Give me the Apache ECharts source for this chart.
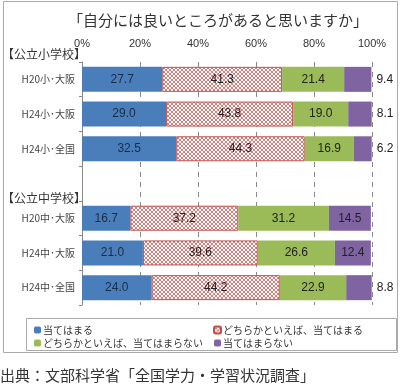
<!DOCTYPE html>
<html><head><meta charset="utf-8">
<script src="https://cdn.jsdelivr.net/npm/echarts@6/dist/echarts.min.js"></script>
<style>html,body{margin:0;padding:0;background:#fff;}#c{width:400px;height:389px;}</style>
</head><body><div id="c"></div>
<script>
var categories = ['H20小･大阪','H24小･大阪','H24小･全国','','H20中･大阪','H24中･大阪','H24中･全国'];
var seriesNames = ['当てはまる','どちらかといえば、当てはまる','どちらかといえば、当てはまらない','当てはまらない'];
var s1 = [27.7, 29.0, 32.5, null, 16.7, 21.0, 24.0];
var s2 = [41.3, 43.8, 44.3, null, 37.2, 39.6, 44.2];
var s3 = [21.4, 19.0, 16.9, null, 31.2, 26.6, 22.9];
var s4 = [9.4, 8.1, 6.2, null, 14.5, 12.4, 8.8];
var tickLabels = ['0%','20%','40%','60%','80%','100%'];

var FONT = '"Noto Sans CJK JP", "Noto Sans", sans-serif';
var NUMFONT = '"Liberation Sans", Arial, sans-serif';

var cv = document.createElement('canvas');
cv.width = 4; cv.height = 4;
var cx = cv.getContext('2d');
cx.fillStyle = '#ffffff'; cx.fillRect(0,0,4,4);
cx.fillStyle = '#D4807C';
[[0,0],[1,1],[2,2],[3,3],[3,0],[2,1],[1,2],[0,3]].forEach(function(p){cx.fillRect(p[0],p[1],1,1);});

function dataOf(arr, purple){
  return arr.map(function(v){
    if (v === null) return '-';
    if (purple && v < 10) return {value: v, label: {position: 'right', distance: 5}};
    return v;
  });
}
var lblBase = {show: true, position: 'inside', fontSize: 12, fontFamily: NUMFONT, color: '#222',
  formatter: function(p){ return (+p.value).toFixed(1); }};

var chart = echarts.init(document.getElementById('c'));
chart.setOption({
  animation: false,
  backgroundColor: '#fff',
  title: {text: '「自分には良いところがあると思いますか」', left: 213, textAlign: 'center', top: 8,
    textStyle: {fontSize: 15, fontWeight: 'normal', color: '#333', fontFamily: FONT}},
  grid: {left: 82, right: 28, top: 62, bottom: 84},
  legend: [
    {data: [seriesNames[0], seriesNames[2]], orient: 'vertical', left: 29, top: 320, itemWidth: 7, itemHeight: 7, itemGap: 3,
     textStyle: {fontSize: 10, color: '#333', fontFamily: FONT, padding: [0,0,0,-3]}},
    {data: [seriesNames[1], seriesNames[3]], orient: 'vertical', left: 208, top: 320, itemWidth: 7, itemHeight: 7, itemGap: 3,
     textStyle: {fontSize: 10, color: '#333', fontFamily: FONT, padding: [0,0,0,-3]}}
  ],
  xAxis: {type: 'value', position: 'top', min: 0, max: 100, interval: 20,
    axisLine: {show: false},
    axisTick: {show: true, inside: true, length: 4, lineStyle: {color: '#888'}},
    axisLabel: {margin: 13, fontSize: 11, color: '#333', fontFamily: NUMFONT,
      formatter: function(v){ return tickLabels[Math.round(v/20)]; }},
    splitLine: {show: true, lineStyle: {color: '#888', type: [5,5], width: 1}}},
  yAxis: {type: 'category', inverse: true, data: categories,
    axisLine: {show: true, lineStyle: {color: '#888'}},
    axisTick: {show: true, length: 3, lineStyle: {color: '#888'}},
    axisLabel: {margin: 7, fontSize: 10, color: '#444', fontFamily: FONT}},
  series: [
    {name: seriesNames[0], type: 'bar', stack: 't', barWidth: 25, data: dataOf(s1),
     itemStyle: {color: '#4A7EBB'}, label: Object.assign({}, lblBase, {color: '#1c2b45'})},
    {name: seriesNames[1], type: 'bar', stack: 't', barWidth: 25, data: dataOf(s2),
     itemStyle: {color: {image: cv, repeat: 'repeat'}, borderColor: '#C0504D', borderWidth: 1}, label: lblBase},
    {name: seriesNames[2], type: 'bar', stack: 't', barWidth: 25, data: dataOf(s3),
     itemStyle: {color: '#9BBB59'}, label: lblBase},
    {name: seriesNames[3], type: 'bar', stack: 't', barWidth: 25, data: dataOf(s4, true),
     itemStyle: {color: '#8064A2'}, label: lblBase}
  ],
  graphic: [
    {type: 'rect', shape: {x: 3.5, y: 1.5, width: 394, height: 351}, style: {fill: 'none', stroke: '#aaa', lineWidth: 1}, z: -1},
    {type: 'rect', shape: {x: 26.5, y: 318.5, width: 370, height: 32}, style: {fill: 'none', stroke: '#aaa', lineWidth: 1}},
    {type: 'text', left: 2, top: 48, style: {text: '【公立小学校】', fontSize: 12, fill: '#333', fontFamily: FONT}},
    {type: 'text', left: 2, top: 192, style: {text: '【公立中学校】', fontSize: 12, fill: '#333', fontFamily: FONT}},
    {type: 'text', left: 0, top: 368, style: {text: '出典：文部科学省「全国学力・学習状況調査」', fontSize: 15, fill: '#333', fontFamily: FONT}}
  ]
});
</script></body></html>
